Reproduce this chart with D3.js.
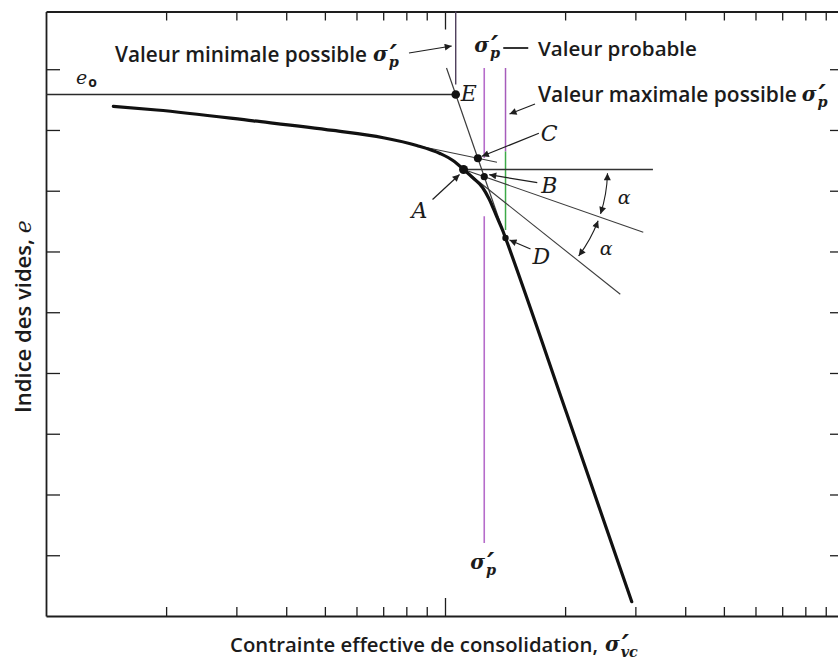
<!DOCTYPE html>
<html>
<head>
<meta charset="utf-8">
<script src="https://cdn.jsdelivr.net/npm/d3@7"></script>
<style>
  html, body { margin: 0; padding: 0; background: #fff; }
  svg { display: block; }
  .sans { font-family: "Open Sans", sans-serif; font-weight: 600; fill: #1b1b1b; }
  .serif { font-family: "DejaVu Serif", serif; font-style: italic; fill: #1b1b1b; }
  .sym { font-family: "DejaVu Serif", serif; font-style: italic; font-weight: bold; fill: #1b1b1b; }
</style>
</head>
<body>
<svg id="chart" width="838" height="664"></svg>
<script>
// ---- Oedometer test: void ratio vs effective stress (log scale) ----
const stress    = [1.475, 1.894, 3.308, 5.249, 7.004, 8.494, 9.716, 10.49, 11.13, 11.78, 12.42, 12.90, 13.48, 14.00, 14.18, 20.18, 29.38];
const voidRatio = [8.387, 8.329, 8.151, 7.992, 7.872, 7.745, 7.613, 7.493, 7.350, 7.205, 7.053, 6.864, 6.573, 6.321, 6.222, 3.337, 0.235];

// Casagrande construction inputs
const e0 = 8.584;                 // initial void ratio
const iA = 8;                     // point of maximum curvature (A)
const iD = 14;                    // start of the virgin compression line (D)
const tangentSlopeA = -5.23;      // de / dlog(sigma) of the tangent at A
const recompPoint = [8.494, 7.745]; // tangency point on the recompression branch
const recompSlope = -1.38;          // de / dlog(sigma) of the recompression tangent
const recompRange = [8.2, 13.5];
const horizontalEnd = 33.2;
const bisectorEnd = 31.4;
const tangentEnd = 27.5;
const extensionTop = 9.02;        // upper end of the extended virgin line
const probableGap = [7.54, 6.58];
const probableBottom = 1.2;

// Axis ticks
const xMinorTicks = [2, 3, 4, 5, 6, 7, 8, 9, 20, 30, 40, 50, 60, 70, 80, 90];
const xMajorTicks = [10];
const yTicks = [1, 2, 3, 4, 5, 6, 7, 8, 9];

const x = d3.scaleLog().domain([1, 100]).range([46, 844]);
const y = d3.scaleLinear().domain([0, 9.95]).range([616, 11.5]);

const svg = d3.select("#chart");
const ink = "#1e1e1e";

// arrowhead marker
const defs = svg.append("defs");
defs.append("marker")
  .attr("id", "head").attr("viewBox", "0 0 10 10")
  .attr("refX", 10).attr("refY", 5)
  .attr("markerWidth", 9).attr("markerHeight", 7)
  .attr("markerUnits", "userSpaceOnUse")
  .attr("orient", "auto-start-reverse")
  .append("path").attr("d", "M0,0L10,5L0,10z").attr("fill", ink);

// ---- frame and ticks ----
function styleAxis(sel, domainWidth) {
  sel.select(".domain").attr("stroke", ink).attr("stroke-width", domainWidth);
  sel.selectAll(".tick line").attr("stroke", ink).attr("stroke-width", 1.3);
  sel.selectAll(".tick text").remove();
}
const noLabel = () => "";
svg.append("g").attr("transform", `translate(0,${y(0)})`)
  .call(d3.axisBottom(x).tickValues(xMinorTicks).tickSize(-9).tickSizeOuter(0).tickFormat(noLabel))
  .call(s => styleAxis(s, 2));
svg.append("g").attr("transform", `translate(0,${y(0)})`)
  .call(d3.axisBottom(x).tickValues(xMajorTicks).tickSize(-18).tickSizeOuter(0).tickFormat(noLabel))
  .call(s => { styleAxis(s, 0); s.select(".domain").remove(); });
svg.append("g").attr("transform", `translate(0,${y(9.95)})`)
  .call(d3.axisTop(x).tickValues(xMinorTicks).tickSize(-9).tickSizeOuter(0).tickFormat(noLabel))
  .call(s => styleAxis(s, 1.8));
svg.append("g").attr("transform", `translate(0,${y(9.95)})`)
  .call(d3.axisTop(x).tickValues(xMajorTicks).tickSize(-18).tickSizeOuter(0).tickFormat(noLabel))
  .call(s => { styleAxis(s, 0); s.select(".domain").remove(); });
svg.append("g").attr("transform", `translate(${x(1)},0)`)
  .call(d3.axisLeft(y).tickValues(yTicks).tickSize(-14).tickSizeOuter(0).tickFormat(noLabel))
  .call(s => styleAxis(s, 1.8));
svg.append("g").attr("transform", `translate(${x(100)},0)`)
  .call(d3.axisRight(y).tickValues(yTicks).tickSize(-14).tickSizeOuter(0).tickFormat(noLabel))
  .call(s => styleAxis(s, 1.8));

// ---- construction geometry ----
const L = Math.log10;
const pt = (s, e) => [x(s), y(e)];
const Ap = pt(stress[iA], voidRatio[iA]);
const Dp = pt(stress[iD], voidRatio[iD]);
const Zp = pt(stress[stress.length - 1], voidRatio[voidRatio.length - 1]);
const xOnVirgin = yy => Dp[0] + (yy - Dp[1]) * (Zp[0] - Dp[0]) / (Zp[1] - Dp[1]);
function intersect(p1, p2, p3, p4) {
  const d = (p1[0] - p2[0]) * (p3[1] - p4[1]) - (p1[1] - p2[1]) * (p3[0] - p4[0]);
  const a = p1[0] * p2[1] - p1[1] * p2[0], b = p3[0] * p4[1] - p3[1] * p4[0];
  return [(a * (p3[0] - p4[0]) - (p1[0] - p2[0]) * b) / d, (a * (p3[1] - p4[1]) - (p1[1] - p2[1]) * b) / d];
}
const Ep = [xOnVirgin(y(e0)), y(e0)];
const extTopP = [xOnVirgin(y(extensionTop)), y(extensionTop)];
const tanEndP = pt(tangentEnd, voidRatio[iA] + tangentSlopeA * (L(tangentEnd) - L(stress[iA])));
const theta = Math.atan2(tanEndP[1] - Ap[1], tanEndP[0] - Ap[0]);
const bisEndP = [x(bisectorEnd), Ap[1] + (x(bisectorEnd) - Ap[0]) * Math.tan(theta / 2)];
const Bp = intersect(Ap, bisEndP, Dp, Zp);
const recompAt = s => pt(s, recompPoint[1] + recompSlope * (L(s) - L(recompPoint[0])));
const Cp = intersect(recompAt(recompRange[0]), recompAt(recompRange[1]), Dp, Zp);

const seg = (p, q, color, w) => svg.append("line")
  .attr("x1", p[0]).attr("y1", p[1]).attr("x2", q[0]).attr("y2", q[1])
  .attr("stroke", color).attr("stroke-width", w).attr("stroke-linecap", "butt");

// e0 level and the minimum possible pre-consolidation stress
seg([x(1), Ep[1]], Ep, "#2a2a2a", 1.5);
seg([Ep[0], y(9.95)], [Ep[0], Ep[1] - 10], "#4f3f5c", 1.4);
// probable value (vertical through B)
seg([Bp[0], y(extensionTop)], [Bp[0], y(probableGap[0])], "#b66cca", 1.6);
seg([Bp[0], y(probableGap[1])], [Bp[0], y(probableBottom)], "#b66cca", 1.6);
// maximum possible value (vertical through D)
seg([Dp[0], y(extensionTop)], [Dp[0], Ap[1] - 18], "#a65cbb", 1.5);
seg([Dp[0], Ap[1] - 18], [Dp[0], Dp[1] - 8], "#3daa48", 1.5);

// construction lines
const thin = "#3c3c3c";
seg(extTopP, Dp, thin, 1.2);                              // extended virgin line
seg(Ap, [x(horizontalEnd), Ap[1]], "#333", 1.5);          // horizontal through A
seg(Ap, tanEndP, thin, 1.1);                              // tangent at A
seg(Ap, bisEndP, thin, 1.1);                              // bisector
seg(recompAt(recompRange[0]), recompAt(recompRange[1]), thin, 1.1); // recompression tangent

// compression curve
const curve = d3.line().x(d => x(d[0])).y(d => y(d[1])).curve(d3.curveMonotoneX);
svg.append("path")
  .attr("d", curve(stress.map((s, i) => [s, voidRatio[i]])))
  .attr("fill", "none").attr("stroke", "#111").attr("stroke-width", 3.2)
  .attr("stroke-linecap", "round").attr("stroke-linejoin", "round");

// angle arcs (alpha)
const rArc = 144;
const deg = Math.PI / 180;
[[1.5 * deg, theta / 2 - 1.3 * deg], [theta / 2 + 1.6 * deg, theta - 1.6 * deg]].forEach(([a0, a1]) => {
  const p = d3.path();
  p.moveTo(Ap[0] + rArc * Math.cos(a0), Ap[1] + rArc * Math.sin(a0));
  p.arc(Ap[0], Ap[1], rArc, a0, a1);
  svg.append("path").attr("d", p.toString()).attr("fill", "none")
    .attr("stroke", ink).attr("stroke-width", 1.1)
    .attr("marker-start", "url(#head)").attr("marker-end", "url(#head)");
});
[theta / 4, 3 * theta / 4].forEach(a => {
  svg.append("text").attr("class", "serif")
    .attr("x", Ap[0] + 163 * Math.cos(a)).attr("y", Ap[1] + 163 * Math.sin(a))
    .attr("text-anchor", "middle").attr("dominant-baseline", "central")
    .style("font-size", "19px").text("α");
});

// points
[[Ep, 4.3], [Cp, 4], [Ap, 4.5], [Bp, 3.6], [Dp, 3.2]].forEach(([p, r]) =>
  svg.append("circle").attr("cx", p[0]).attr("cy", p[1]).attr("r", r).attr("fill", "#111"));

// ---- annotations ----
const arrow = (p, q) => svg.append("line")
  .attr("x1", p[0]).attr("y1", p[1]).attr("x2", q[0]).attr("y2", q[1])
  .attr("stroke", ink).attr("stroke-width", 1.2).attr("marker-end", "url(#head)");
const letter = (t, p) => svg.append("text").attr("class", "serif")
  .attr("x", p[0]).attr("y", p[1]).style("font-size", "22px").text(t);

letter("E", [Ep[0] + 5, Ep[1] + 7]);
letter("C", [Cp[0] + 63, Cp[1] - 17]);
letter("B", [Bp[0] + 57, Bp[1] + 16]);
letter("A", [Ap[0] - 52, Ap[1] + 49]);
letter("D", [Dp[0] + 27, Dp[1] + 26]);
arrow([Cp[0] + 61, Cp[1] - 25], [Cp[0] + 4, Cp[1] - 2]);
arrow([Bp[0] + 53, Bp[1] + 6], [Bp[0] + 5, Bp[1] - 2]);
arrow([Ap[0] - 31, Ap[1] + 30], [Ap[0] - 4, Ap[1] + 5]);
arrow([Dp[0] + 25, Dp[1] + 11], [Dp[0] + 4, Dp[1] + 2]);

// e0 label
const e0Label = svg.append("text").attr("class", "serif").attr("x", 76).attr("y", Ep[1] - 10)
  .style("font-size", "19px").text("e");
e0Label.append("tspan").attr("dx", 1).attr("dy", 3)
  .style("font-family", "Open Sans").style("font-style", "normal").style("font-weight", 700)
  .style("font-size", "14px").text("o");

// sigma prime with subscript, as one text run
function sigma(x0, base, size, sub) {
  const t = svg.append("text").attr("class", "sym").attr("x", x0).attr("y", base)
    .style("font-size", size + "px").text("σ");
  t.append("tspan").attr("dx", 0.1 * size).attr("dy", 0.22 * size)
    .style("font-size", (1.4 * size) + "px").text("′");
  t.append("tspan").attr("dx", -0.42 * size).attr("dy", 0.1 * size)
    .style("font-size", (0.72 * size) + "px").text(sub);
  return t;
}
function fitText(sel, width) {
  const w = sel.node().getComputedTextLength();
  const fs = parseFloat(sel.style("font-size"));
  sel.style("font-size", (fs * width / w) + "px");
  return sel.node().getComputedTextLength();
}
const sans = (t, x0, base, width) => {
  const s = svg.append("text").attr("class", "sans").attr("x", x0).attr("y", base)
    .style("font-size", "20px").text(t);
  return x0 + fitText(s, width);
};

// minimum possible
let xe = sans("Valeur minimale possible", 115, 62, 252);
sigma(xe + 6, 61, 20, "p");
arrow([xe + 42, 53], [Ep[0] - 4, 46]);

// probable
sigma(Bp[0] - 10, 52, 20, "p");
seg([Bp[0] + 19, 48], [Bp[0] + 44, 48], ink, 1.8);
sans("Valeur probable", 538, 56, 159);

// maximum possible
xe = sans("Valeur maximale possible", 538, 102, 259);
sigma(xe + 5, 101, 20, "p");
arrow([535, 104], [Dp[0] + 4, 114]);

// probable value at the bottom
sigma(Bp[0] - 14, 569, 20, "p");

// axis titles
xe = sans("Contrainte effective de consolidation,", 230, 652, 368);
sigma(xe + 7, 651, 20, "vc");

const yTitle = svg.append("text").attr("class", "sans")
  .attr("transform", "translate(31,413) rotate(-90)").style("font-size", "20px");
yTitle.append("tspan").text("Indice des vides, ");
yTitle.append("tspan").attr("class", "serif").style("font-weight", "normal").text("e");
fitText(yTitle, 193);
</script>
</body>
</html>
